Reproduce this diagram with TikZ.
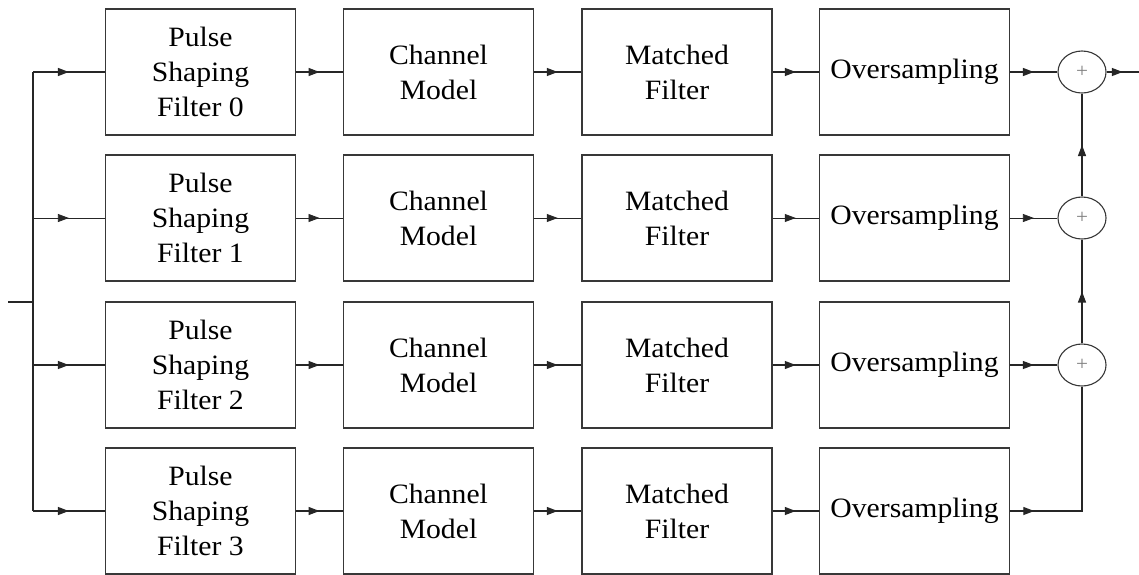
\documentclass[tikz,border=0pt]{standalone}
\usepackage{fontspec}
\setmainfont{Liberation Serif}[FakeStretch=1.06]
\usetikzlibrary{arrows.meta,shapes.geometric,decorations.markings}
\begin{document}
\begin{tikzpicture}[x=1pt,y=-1pt,
  blk/.style={draw=black!78,line width=1.5pt,minimum width=190pt,minimum height=126pt,
    inner sep=0pt,align=center,font=\fontsize{28}{35}\selectfont},
  adder/.style={draw=black!78,line width=1.1pt,ellipse,minimum width=48pt,minimum height=42pt,
    inner sep=0pt,text=black!50,font=\fontsize{20}{20}\selectfont},
  wire/.style={draw=black!85,line width=#1},
  wire/.default=1.2pt,
  tipmark/.style={decoration={markings,mark=at position #1 with {\arrow{Triangle[length=11pt,width=8pt]}}},postaction={decorate}},
  tipmark/.default=0.5
]
\useasboundingbox (0,0) rectangle (1139,574);
\fill[white] (0,0) rectangle (1139,574);

% boxes
\foreach \r/\y in {0/72,1/218,2/365,3/511}{
  \node[blk] (p\r) at (200.5,\y) {Pulse\\Shaping\\Filter \r};
  \node[blk] (c\r) at (438.5,\y) {Channel\\Model};
  \node[blk] (m\r) at (677,\y) {Matched\\Filter};
  \node[blk] (o\r) at (914.5,\y) {Oversampling};
  \coordinate (b\r) at (33,\y);
}
\node[adder] (a0) at (1082,72) {+};
\node[adder] (a1) at (1082,218) {+};
\node[adder] (a2) at (1082,365) {+};
\coordinate (in) at (8,302);
\coordinate (bin) at (33,302);
\coordinate (k3) at (1082,511);
\coordinate (out) at (1139,72);

% input and bus
\draw[wire=1.3pt] (in) -- (bin);
\draw[wire=1.3pt] (b0) -- (b3);

% row connectors
\foreach \r/\w in {0/1.4pt,1/0.8pt,2/1.1pt,3/1.3pt}{
  \draw[wire=\w,tipmark] (b\r) -- (p\r);
  \draw[wire=\w,tipmark] (p\r) -- (c\r);
  \draw[wire=\w,tipmark] (c\r) -- (m\r);
  \draw[wire=\w,tipmark] (m\r) -- (o\r);
}
\draw[wire=1.4pt,tipmark] (o0) -- (a0);
\draw[wire=0.8pt,tipmark] (o1) -- (a1);
\draw[wire=1.1pt,tipmark] (o2) -- (a2);
\draw[wire=1.3pt,tipmark=24pt] (o3.east) -- (k3) -- (a2.south);

% adder chain
\draw[wire=1.2pt,tipmark] (a1.north) -- (a0.south);
\draw[wire=1.2pt,tipmark] (a2.north) -- (a1.south);
\draw[wire=1.4pt,tipmark] (a0.east) -- (out);
\end{tikzpicture}
\end{document}
